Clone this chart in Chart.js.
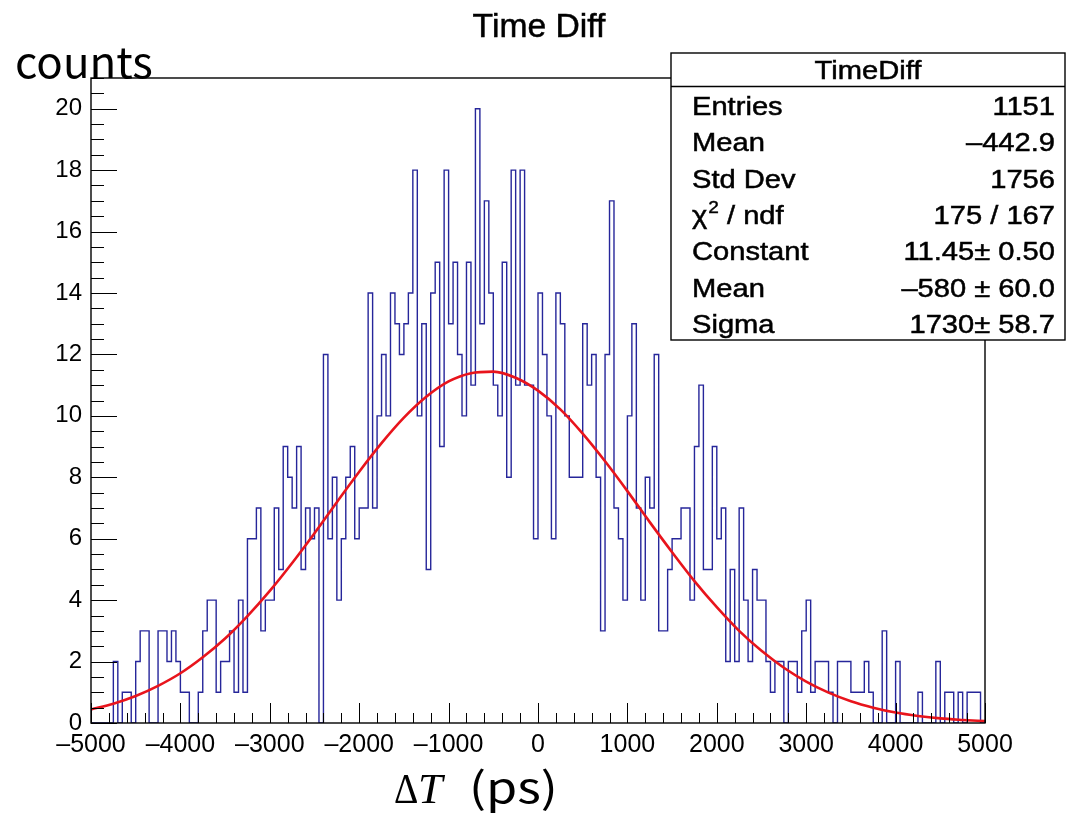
<!DOCTYPE html>
<html><head><meta charset="utf-8">
<script src="https://cdn.jsdelivr.net/npm/chart.js@4.4.1/dist/chart.umd.min.js"></script>
<style>html,body{margin:0;padding:0;background:#fff;} #wrap{width:1066px;height:817px;position:relative;}</style>
</head><body><div id="wrap"><canvas id="c" width="1066" height="817"></canvas></div>
<script>
// ---- data ----
const BIN_MIN = -5000;
const BIN_WIDTH = 50;
const counts = [
  0,0,0,0,0,2,0,1,1,0,
  2,3,3,0,0,3,3,2,3,2,
  1,1,0,0,1,3,4,4,1,2,
  2,3,1,4,1,6,6,7,3,4,
  4,7,5,9,8,7,9,5,7,6,
  7,0,12,6,8,4,6,8,9,6,
  7,7,14,7,10,12,10,14,13,12,
  13,14,18,10,13,5,14,15,9,18,
  13,15,12,10,15,11,20,13,17,14,
  11,10,15,8,18,11,18,11,11,6,
  14,12,10,6,14,13,10,8,8,8,
  13,11,12,8,3,12,17,7,6,4,
  10,13,7,4,8,7,12,3,3,5,
  6,6,7,7,4,9,11,5,5,9,
  6,7,2,5,2,7,4,2,5,4,
  4,2,1,2,2,0,2,2,1,3,
  4,1,2,2,2,1,0,2,2,2,
  1,1,1,2,1,0,0,3,0,0,
  2,0,0,0,0,1,0,0,0,2,
  0,1,1,0,1,0,1,1,1,0
];
const fitX = [-5000,-4750,-4500,-4250,-4000,-3750,-3500,-3250,-3000,-2750,-2500,-2250,-2000,-1750,-1500,-1250,-1000,-750,-500,-250,0,250,500,750,1000,1250,1500,1750,2000,2250,2500,2750,3000,3250,3500,3750,4000,4250,4500,4750,5000];
const fitY = [0.44,0.63,0.88,1.21,1.62,2.14,2.75,3.48,4.30,5.21,6.18,7.19,8.18,9.11,9.94,10.62,11.12,11.39,11.44,11.24,10.82,10.21,9.42,8.52,7.55,6.54,5.56,4.62,3.77,3.00,2.35,1.80,1.35,0.99,0.71,0.50,0.34,0.23,0.15,0.10,0.06];
const xTickValues = [-5000,-4000,-3000,-2000,-1000,0,1000,2000,3000,4000,5000];
const xTickLabels = ['\u20135000','\u20134000','\u20133000','\u20132000','\u20131000','0','1000','2000','3000','4000','5000'];
const yTickValues = [0,2,4,6,8,10,12,14,16,18,20];
const yTickLabels = ['0','2','4','6','8','10','12','14','16','18','20'];
const chartTitle = 'Time Diff';
const yTitle = 'counts';
const xTitleParts = ['\u0394', 'T', '(ps)'];
const statsTitle = 'TimeDiff';
const statsLabels = ['Entries','Mean','Std Dev','\u03C7|2| / ndf','Constant','Mean','Sigma'];
const statsValues = ['1151','\u2013442.9','1756','175 / 167','11.45\u00B1 0.50','\u2013580 \u00B1 60.0','1730\u00B1 58.7'];

// ---- build datasets ----
const histPoints = [{x: BIN_MIN, y: 0}];
counts.forEach((c, i) => histPoints.push({x: BIN_MIN + i * BIN_WIDTH, y: c}));
const xEnd = BIN_MIN + counts.length * BIN_WIDTH;
histPoints.push({x: xEnd, y: counts[counts.length - 1]});
histPoints.push({x: xEnd, y: 0});
const fitPoints = fitX.map((x, i) => ({x: x, y: fitY[i]}));

const SANS = 'Liberation Sans, Arial, sans-serif';
const CJK = '"Noto Sans CJK SC", "Noto Sans", sans-serif';
const SX = 1.12;

function stretchText(ctx, str, x, y, align, sx, bold) {
  ctx.save();
  ctx.translate(x, y);
  ctx.scale(sx, 1);
  ctx.textAlign = align;
  ctx.textBaseline = 'alphabetic';
  ctx.fillText(str, 0, 0);
  if (bold) {
    ctx.lineWidth = bold;
    ctx.strokeStyle = ctx.fillStyle;
    ctx.strokeText(str, 0, 0);
  }
  ctx.restore();
}

const decor = {
  id: 'decor',
  afterDatasetsDraw(chart) {
    const ctx = chart.ctx;
    const a = chart.chartArea;
    const xs = chart.scales.x, ys = chart.scales.y;
    ctx.save();
    ctx.strokeStyle = '#000';
    ctx.lineWidth = 1;
    for (let v = 0; v <= 21.0001; v += 0.5) {
      const py = Math.round(ys.getPixelForValue(v)) + 0.5;
      const major = Math.abs(v / 2 - Math.round(v / 2)) < 1e-6;
      ctx.beginPath();
      ctx.moveTo(a.left, py);
      ctx.lineTo(a.left + (major ? 26 : 13), py);
      ctx.stroke();
    }
    for (let v = -5000; v <= 5000; v += 200) {
      const px = Math.round(xs.getPixelForValue(v)) + 0.5;
      const major = v % 1000 === 0;
      ctx.beginPath();
      ctx.moveTo(px, a.bottom);
      ctx.lineTo(px, a.bottom - (major ? 20 : 10));
      ctx.stroke();
    }
    ctx.lineWidth = 1.4;
    ctx.strokeRect(a.left, a.top, a.right - a.left, a.bottom - a.top);
    ctx.restore();
  },
  afterDraw(chart) {
    const ctx = chart.ctx;
    ctx.save();
    ctx.fillStyle = '#000';
    // main title
    ctx.font = '33px ' + SANS;
    stretchText(ctx, chartTitle, 539, 37, 'center', 1.02, 0.5);
    // y title
    ctx.font = '43px ' + CJK;
    stretchText(ctx, yTitle, 15, 78, 'left', 1.02);
    // x title: ΔT (ps)
    const base = 803;
    ctx.font = '42px "Liberation Serif", serif';
    stretchText(ctx, xTitleParts[0], 394, base, 'left', 0.9);
    ctx.font = 'italic 42px "Liberation Serif", serif';
    stretchText(ctx, xTitleParts[1], 418, base, 'left', 1.05);
    ctx.font = '42px ' + CJK;
    stretchText(ctx, xTitleParts[2], 469, base, 'left', 1.2);

    // stats box
    const bx = 671, by = 53, bw = 394, bh = 287;
    ctx.fillStyle = '#fff';
    ctx.fillRect(bx, by, bw, bh);
    ctx.strokeStyle = '#000';
    ctx.lineWidth = 1.4;
    ctx.strokeRect(bx, by, bw, bh);
    ctx.beginPath();
    ctx.moveTo(bx, 86.5); ctx.lineTo(bx + bw, 86.5);
    ctx.stroke();
    ctx.fillStyle = '#000';
    ctx.font = '26px ' + SANS;
    stretchText(ctx, statsTitle, bx + bw / 2, 79, 'center', SX, 0.5);
    const rowBase = [115, 151.3, 187.6, 223.9, 260.2, 296.5, 332.8];
    statsLabels.forEach((lab, i) => {
      const y = rowBase[i];
      ctx.font = '26px ' + SANS;
      if (lab.indexOf('|') >= 0) {
        const parts = lab.split('|');
        let lx = 692;
        stretchText(ctx, parts[0], lx, y, 'left', SX, 0.5);
        lx += ctx.measureText(parts[0]).width * SX + 1;
        ctx.font = '17px ' + SANS;
        stretchText(ctx, parts[1], lx, y - 11, 'left', SX, 0.4);
        lx += ctx.measureText(parts[1]).width * SX;
        ctx.font = '26px ' + SANS;
        stretchText(ctx, parts[2], lx, y, 'left', SX, 0.5);
      } else {
        stretchText(ctx, lab, 692, y, 'left', SX, 0.5);
      }
      stretchText(ctx, statsValues[i], 1055, y, 'right', SX, 0.5);
    });
    ctx.restore();
  }
};

new Chart(document.getElementById('c').getContext('2d'), {
  type: 'line',
  data: {
    datasets: [
      {data: histPoints, stepped: 'before', borderColor: '#26269a', borderWidth: 1.4, pointRadius: 0, fill: false, order: 2},
      {data: fitPoints, borderColor: '#e8141c', borderWidth: 2.6, pointRadius: 0, fill: false, cubicInterpolationMode: 'monotone', order: 1}
    ]
  },
  options: {
    responsive: false,
    animation: false,
    devicePixelRatio: 1,
    layout: {autoPadding: false, padding: {left: 0, right: 81, top: 78, bottom: 54}},
    plugins: {legend: {display: false}, tooltip: {enabled: false}, title: {display: false}},
    scales: {
      x: {
        type: 'linear', min: -5000, max: 5000,
        grid: {display: false, drawTicks: false}, border: {display: false},
        afterBuildTicks: s => { s.ticks = xTickValues.map(v => ({value: v})); },
        afterFit: s => { s.height = 40; },
        ticks: {autoSkip: false, maxRotation: 0, padding: 7, color: '#000',
          font: {family: SANS, size: 25},
          callback: (v, i) => xTickLabels[i]}
      },
      y: {
        type: 'linear', min: 0, max: 21,
        grid: {display: false, drawTicks: false}, border: {display: false},
        afterBuildTicks: s => { s.ticks = yTickValues.map(v => ({value: v})); },
        afterFit: s => { s.width = 91; },
        ticks: {autoSkip: false, padding: 9, color: '#000',
          font: {family: SANS, size: 24},
          callback: (v, i) => yTickLabels[i]}
      }
    }
  },
  plugins: [decor]
});
</script>
</body></html>
